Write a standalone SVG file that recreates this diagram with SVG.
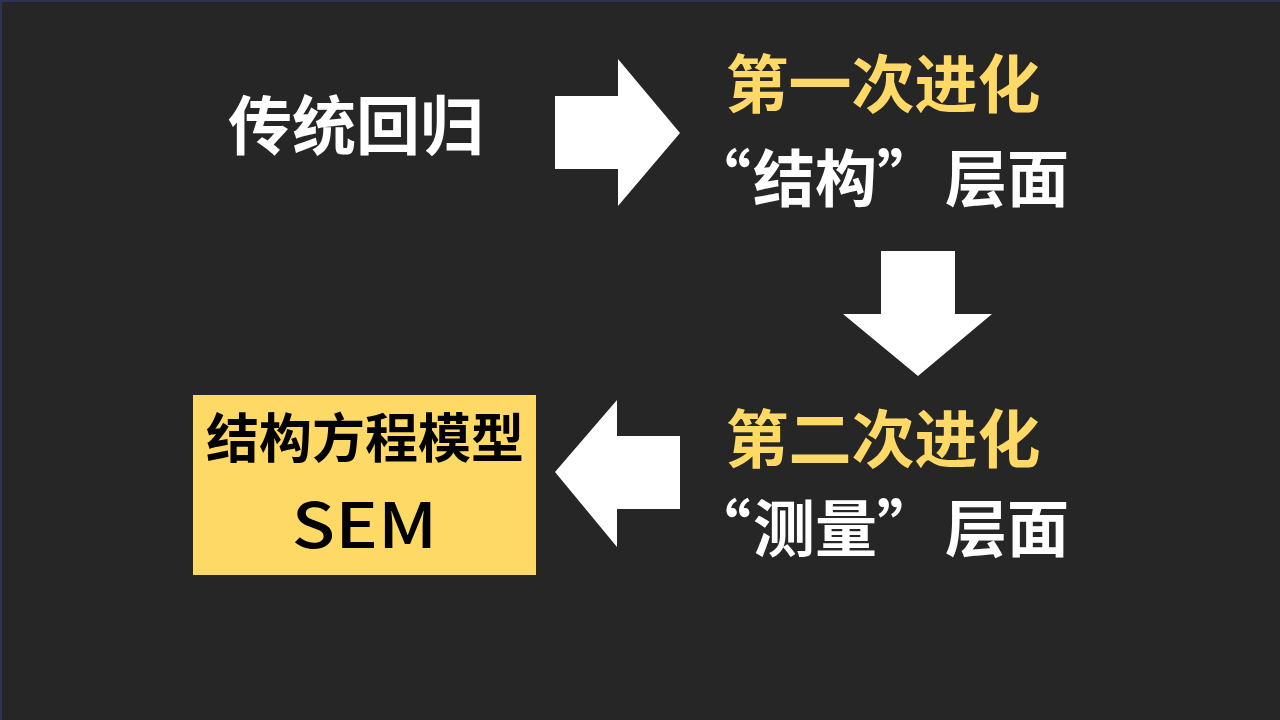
<svg xmlns="http://www.w3.org/2000/svg" width="1280" height="720" viewBox="0 0 1280 720">
<style>
.t{font-family:"Noto Sans CJK SC","Noto Sans",sans-serif;font-weight:700;text-anchor:middle}
.s{font-family:"Noto Sans CJK SC","Noto Sans",sans-serif;font-weight:700;text-anchor:start}
.m{font-family:"Noto Sans CJK SC","Noto Sans",sans-serif;font-weight:500;text-anchor:middle}
.w{fill:#FFFFFF}
.y{fill:#FFD966}
.k{fill:#000000}
.arr{fill:#FFFFFF}
</style>
<rect x="0" y="0" width="1280" height="720" fill="#262626"/>
<rect x="0" y="0" width="1280" height="2" fill="#2B3452"/>
<rect x="0" y="0" width="2" height="720" fill="#2B3452"/>
<g id="node-traditional">
<text class="t w" x="356" y="149" font-size="64">传统回归</text>
</g>
<g id="node-first">
<text class="t y" x="883" y="107" font-size="63">第一次进化</text>
<text class="s w" x="689 753 815 877 945 1007" y="202" font-size="62">“结构”层面</text>
</g>
<g id="node-second">
<text class="t y" x="883" y="462" font-size="63">第二次进化</text>
<text class="s w" x="689 753 815 877 945 1007" y="552" font-size="62">“测量”层面</text>
</g>
<g id="node-sem">
<rect x="193" y="395" width="343" height="180" fill="#FFD966"/>
<text class="t k" x="365" y="458" font-size="53">结构方程模型</text>
<text class="m k" x="0" y="0" font-size="62" transform="translate(364.5,548) scale(1.15,1)">SEM</text>
</g>
<g id="connectors">
<polygon class="arr" points="555,96 618,96 618,59 680,133 618,206 618,169 555,169"/>
<polygon class="arr" points="881,251 955,251 955,314 992,314 918,376 843,314 881,314"/>
<polygon class="arr" points="680,436 617,436 617,400 555,472 617,547 617,509 680,509"/>
</g>
</svg>
